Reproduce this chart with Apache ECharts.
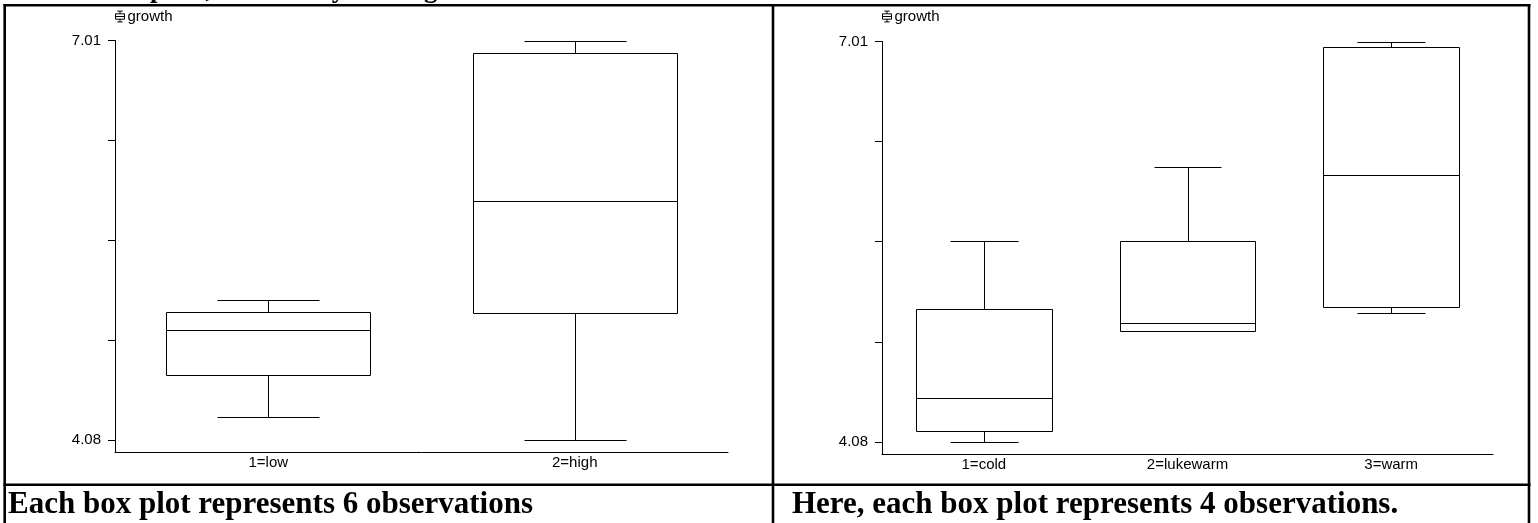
<!DOCTYPE html>
<html>
<head>
<meta charset="utf-8">
<title>growth box plots</title>
<script src="https://cdn.jsdelivr.net/npm/echarts@6/dist/echarts.min.js"></script>
<style>
  html, body { margin: 0; padding: 0; background: #fff; }
  #main { width: 1538px; height: 523px; }
</style>
</head>
<body>
<div id="main"></div>
<script>
// data: [min, q1, median, q3, max]
const heatCats = ['1=low', '2=high'];
const heatBoxes = [
    [4.25, 4.56, 4.89, 5.02, 5.11],
    [4.08, 5.01, 5.83, 6.92, 7.01]
];
const tempCats = ['1=cold', '2=lukewarm', '3=warm'];
const tempBoxes = [
    [4.08, 4.16, 4.40, 5.05, 5.55],
    [4.89, 4.89, 4.95, 5.55, 6.09],
    [5.02, 5.07, 6.03, 6.97, 7.01]
];
const yTicks = [4.08, 4.8125, 5.545, 6.2775, 7.01];
const yLabels = [4.08, 7.01];
const seriesName = 'growth';
const captions = [
    'Each box plot represents 6 observations',
    'Here, each box plot represents 4 observations.'
];
// only the bottom of this line is visible in the picture
const titleText = 'Growth box plots, ordered by heating';

const chart = echarts.init(document.getElementById('main'));

const sans = 'Liberation Sans, Arial, sans-serif';
const serif = 'Liberation Serif, Times New Roman, serif';

// the y axis goes a bit below 4.08 so the x axis sits under the last tick
const pxPerUnit = 399.5 / (7.01 - 4.08);
const yMin = 4.08 - 12 / pxPerUnit;

// box + median + whiskers with caps half as wide as the box
function renderBox (params, api) {
    const i = api.value(0);
    const band = api.size([1, 0])[0];
    const half = band * 0.333;
    const capHalf = half / 2;
    const cx = api.coord([i, 0])[0];
    const yy = [1, 2, 3, 4, 5].map(d => Math.round(api.coord([i, api.value(d)])[1]) + 0.5);
    const x0 = Math.round(cx - half) + 0.5;
    const x1 = Math.round(cx + half) + 0.5;
    const xc = Math.round(cx) + 0.5;
    const c0 = Math.round(cx - capHalf) + 0.5;
    const c1 = Math.round(cx + capHalf) + 0.5;
    const st = { stroke: '#000', lineWidth: 1, fill: null };
    const line = (a, b, c, d) => ({ type: 'line', shape: { x1: a, y1: b, x2: c, y2: d }, style: st });
    return {
        type: 'group',
        children: [
            { type: 'rect', shape: { x: x0, y: yy[3], width: x1 - x0, height: yy[1] - yy[3] }, style: { stroke: '#000', lineWidth: 1, fill: '#fff' } },
            line(x0, yy[2], x1, yy[2]),
            line(xc, yy[3], xc, yy[4]),
            line(xc, yy[1], xc, yy[0]),
            line(c0, yy[4], c1, yy[4]),
            line(c0, yy[0], c1, yy[0])
        ]
    };
}

function yAxisFor (gridIndex) {
    return {
        type: 'value',
        gridIndex: gridIndex,
        min: yMin,
        max: 7.01,
        splitLine: { show: false },
        axisLine: { show: true, lineStyle: { color: '#000', width: 1 } },
        axisTick: { show: true, length: 7, customValues: yTicks, lineStyle: { color: '#000' } },
        axisLabel: {
            customValues: yLabels,
            formatter: v => v.toFixed(2),
            color: '#000',
            fontFamily: sans,
            fontSize: 15,
            margin: 14
        }
    };
}

function xAxisFor (gridIndex, cats) {
    return {
        type: 'category',
        gridIndex: gridIndex,
        data: cats,
        boundaryGap: true,
        axisLine: { show: true, lineStyle: { color: '#000', width: 1 } },
        axisTick: { show: false },
        axisLabel: { color: '#000', fontFamily: sans, fontSize: 15, margin: 3 }
    };
}

const boxIcon = 'path://M5,0L5,3M2,0L8,0M0,3L10,3L10,9L0,9ZM0,6L10,6M5,9L5,12M2,12L8,12';

function legendFor (left, top) {
    return {
        left: left,
        top: top,
        data: [{ name: seriesName, icon: boxIcon }],
        itemWidth: 9,
        itemHeight: 11,
        itemGap: 4,
        itemStyle: { color: 'transparent', borderColor: '#000', borderWidth: 1 },
        textStyle: { color: '#000', fontFamily: sans, fontSize: 15, padding: [0, 0, 0, -2] },
        padding: 0
    };
}

const toRows = boxes => boxes.map((b, i) => [i].concat(b));

const option = {
    animation: false,
    backgroundColor: '#fff',
    legend: [legendFor(115, 9), legendFor(882, 9)],
    grid: [
        { left: 115, top: 40.5, width: 613, height: 411.5 },
        { left: 882, top: 41.5, width: 611, height: 412.5 }
    ],
    xAxis: [xAxisFor(0, heatCats), xAxisFor(1, tempCats)],
    yAxis: [yAxisFor(0), yAxisFor(1)],
    series: [
        {
            name: seriesName,
            type: 'custom',
            xAxisIndex: 0,
            yAxisIndex: 0,
            renderItem: renderBox,
            encode: { x: 0, y: [1, 2, 3, 4, 5] },
            data: toRows(heatBoxes)
        },
        {
            name: seriesName,
            type: 'custom',
            xAxisIndex: 1,
            yAxisIndex: 1,
            renderItem: renderBox,
            encode: { x: 0, y: [1, 2, 3, 4, 5] },
            data: toRows(tempBoxes)
        }
    ],
    graphic: [
        // clipped title above the table, only the descenders peek out
        { type: 'text', x: 5, y: 4, style: { text: titleText, font: 'bold 27px ' + serif, fill: '#000', verticalAlign: 'bottom' } },
        // table borders
        { type: 'line', shape: { x1: 3.5, y1: 5.3, x2: 1530.5, y2: 5.3 }, style: { stroke: '#000', lineWidth: 2.6 } },
        { type: 'line', shape: { x1: 4.7, y1: 4, x2: 4.7, y2: 523 }, style: { stroke: '#000', lineWidth: 2.6 } },
        { type: 'line', shape: { x1: 773, y1: 4, x2: 773, y2: 523 }, style: { stroke: '#000', lineWidth: 2.6 } },
        { type: 'line', shape: { x1: 1529, y1: 4, x2: 1529, y2: 523 }, style: { stroke: '#000', lineWidth: 2.6 } },
        { type: 'line', shape: { x1: 3.5, y1: 484.7, x2: 1530.5, y2: 484.7 }, style: { stroke: '#000', lineWidth: 2.6 } },
        // captions
        { type: 'text', left: 8, top: 489, style: { text: captions[0], font: 'bold 31px ' + serif, fill: '#000' } },
        { type: 'text', left: 792, top: 489, style: { text: captions[1], font: 'bold 31px ' + serif, fill: '#000' } }
    ]
};

chart.setOption(option);
</script>
</body>
</html>
